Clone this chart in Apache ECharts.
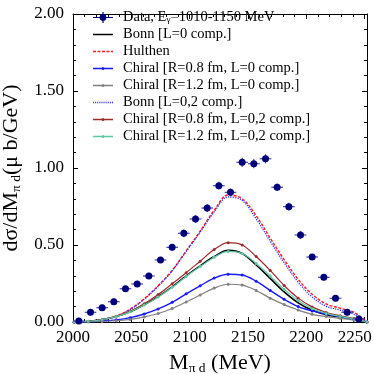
<!DOCTYPE html>
<html>
<head>
<meta charset="utf-8">
<script src="https://cdn.jsdelivr.net/npm/echarts@6/dist/echarts.min.js"></script>
<style>
  html, body { margin: 0; padding: 0; background: #fff; }
  #chart { width: 374px; height: 374px; }
</style>
</head>
<body>
<div id="chart"></div>
<script>
// measured points (bin centres, MeV) and cross section (µb/GeV)
var massBins = [2005, 2015, 2025, 2035, 2045, 2055, 2065, 2075, 2085, 2095, 2105, 2115, 2125,
  2135, 2145, 2155, 2165, 2175, 2185, 2195, 2205, 2215, 2225, 2235, 2245];
var dataValues = [0.006, 0.063, 0.093, 0.132, 0.216, 0.247, 0.299, 0.403, 0.485, 0.576, 0.669, 0.740, 0.885,
  0.842, 1.037, 1.028, 1.060, 0.875, 0.749, 0.565, 0.422, 0.290, 0.154, 0.063, 0.020];
var dataErrors = [0.015, 0.02, 0.02, 0.02, 0.02, 0.02, 0.02, 0.02, 0.02, 0.025, 0.025, 0.025, 0.025,
  0.025, 0.03, 0.03, 0.03, 0.025, 0.025, 0.025, 0.02, 0.02, 0.02, 0.02, 0.015];
var binHalfWidth = 5;

// model curves
var curveMass = [2001, 2013, 2025, 2037, 2049, 2061, 2073, 2085, 2097, 2109, 2121,
  2133, 2145, 2157, 2169, 2181, 2193, 2205, 2217, 2229, 2241, 2252];
var bonnL0 = [0, 0.005, 0.016, 0.036, 0.067, 0.112, 0.165, 0.228, 0.300, 0.365, 0.425,
  0.465, 0.445, 0.370, 0.283, 0.195, 0.124, 0.076, 0.048, 0.032, 0.018, 0];
var hulthen = [0, 0.003, 0.014, 0.038, 0.083, 0.150, 0.235, 0.335, 0.462, 0.590, 0.725,
  0.825, 0.800, 0.690, 0.545, 0.405, 0.277, 0.180, 0.117, 0.090, 0.062, 0];
var chiral08L0 = [0, 0.002, 0.007, 0.014, 0.028, 0.052, 0.085, 0.128, 0.183, 0.235, 0.285,
  0.310, 0.305, 0.265, 0.205, 0.147, 0.100, 0.072, 0.052, 0.035, 0.018, 0];
var chiral12L0 = [0, 0.001, 0.004, 0.008, 0.017, 0.033, 0.055, 0.088, 0.130, 0.175, 0.220,
  0.245, 0.240, 0.205, 0.155, 0.113, 0.078, 0.050, 0.035, 0.024, 0.012, 0];
var bonnL02 = [0, 0.003, 0.014, 0.037, 0.081, 0.147, 0.232, 0.332, 0.458, 0.582, 0.715,
  0.812, 0.790, 0.670, 0.525, 0.385, 0.258, 0.162, 0.102, 0.077, 0.050, 0];
var chiral08L02 = [0, 0.005, 0.017, 0.037, 0.070, 0.118, 0.178, 0.248, 0.320, 0.395, 0.470,
  0.515, 0.500, 0.425, 0.335, 0.237, 0.155, 0.098, 0.062, 0.040, 0.022, 0];
var chiral12L02 = [0, 0.005, 0.016, 0.035, 0.066, 0.110, 0.163, 0.225, 0.296, 0.360, 0.420,
  0.458, 0.445, 0.380, 0.298, 0.213, 0.140, 0.088, 0.056, 0.036, 0.020, 0];

var yTicks = ['0.00', '0.50', '1.00', '1.50', '2.00'];

var FONT = 'Liberation Serif';
var C_DATA = '#00007a', C_BAR = '#4646a8';

function pairs(xs, ys) {
  return xs.map(function (x, i) { return [x, ys[i]]; });
}

// legend glyphs (drawn with keepAspect, so thin paths stay thin); all sub-paths clockwise
var ICON_DATA = 'path://M0,5.4h20v1.2h-20z M9.4,0.5h1.2v11h-1.2z M6.6,6a3.4,3.4 0 1,1 6.8,0a3.4,3.4 0 1,1 -6.8,0z';
var ICON_SOLID = 'path://M0,0h20v1.5h-20z';
var ICON_MARK = 'path://M0,0.85h20v1.3h-20z M8.5,1.5a1.5,1.5 0 1,1 3,0a1.5,1.5 0 1,1 -3,0z';
function dashIcon(dash, gap) {
  var p = 'path://';
  for (var x = 0; x < 20; x += dash + gap) {
    var w = Math.min(dash, 20 - x);
    p += 'M' + x + ',0h' + w + 'v1.4h-' + w + 'z ';
  }
  return p;
}
function legendItem(name, icon, color) {
  return { name: name, icon: icon, itemStyle: { color: color, borderWidth: 0, opacity: 1 } };
}

var chart = echarts.init(document.getElementById('chart'));

var frameAxis = {
  axisLine: { show: true, onZero: false, lineStyle: { color: '#000', width: 1 } },
  axisTick: { show: true, inside: true, length: 5, lineStyle: { color: '#000' } },
  minorTick: { show: true, splitNumber: 5, length: 3, lineStyle: { color: '#000' } },
  splitLine: { show: false }
};

function curve(name, values, color, lineType, width, withMarks) {
  return {
    name: name,
    type: 'line',
    data: pairs(curveMass, values),
    smooth: 0.35,
    symbol: withMarks ? 'circle' : 'none',
    symbolSize: 3,
    showSymbol: withMarks,
    itemStyle: { color: color },
    lineStyle: { color: color, width: width, type: lineType },
    z: 3
  };
}

var option = {
  animation: false,
  backgroundColor: '#fff',
  textStyle: { fontFamily: FONT, color: '#000' },
  grid: { left: 73, right: 7, top: 14, bottom: 52, outerBoundsMode: 'none' },
  legend: {
    orient: 'vertical',
    left: 88,
    top: 5,
    itemWidth: 20,
    itemHeight: 12,
    itemGap: 2,
    textStyle: {
      fontFamily: FONT, fontSize: 14.5, color: '#000', lineHeight: 14,
      padding: [0, 0, 0, 5],
      rich: {
        sub: { fontFamily: FONT, fontSize: 9, verticalAlign: 'bottom', lineHeight: 9 }
      }
    },
    formatter: function (name) {
      if (name === 'Data') return 'Data, E{sub|γ}=1010-1150 MeV';
      return name;
    },
    data: [
      legendItem('Data', ICON_DATA, C_DATA),
      legendItem('Bonn [L=0 comp.]', ICON_SOLID, '#000000'),
      legendItem('Hulthen', dashIcon(3, 1.5), '#ff1a1a'),
      legendItem('Chiral [R=0.8 fm, L=0 comp.]', ICON_MARK, '#1a1aff'),
      legendItem('Chiral [R=1.2 fm, L=0 comp.]', ICON_MARK, '#808080'),
      legendItem('Bonn [L=0,2 comp.]', dashIcon(1, 1), '#2a2aff'),
      legendItem('Chiral [R=0.8 fm, L=0,2 comp.]', ICON_MARK, '#9e2a2a'),
      legendItem('Chiral [R=1.2 fm, L=0,2 comp.]', ICON_MARK, '#5ec7a5')
    ]
  },
  xAxis: [
    Object.assign({}, frameAxis, {
      type: 'value', position: 'bottom', min: 2000, max: 2252, interval: 50,
      axisLabel: {
        fontFamily: FONT, fontSize: 17, color: '#000', margin: 7,
        showMaxLabel: false,
        formatter: function (v) {
          if (v % 50 !== 0) return '';
          return v === 2250 ? '{last|' + v + '}' : String(v);
        },
        rich: { last: { fontFamily: FONT, fontSize: 17, color: '#000', padding: [0, 20, 0, 0] } }
      },
      name: 'M{sub|π d} (MeV)',
      nameLocation: 'middle',
      nameGap: 23,
      nameTextStyle: {
        fontFamily: FONT, fontSize: 22, color: '#000', lineHeight: 25,
        rich: { sub: { fontFamily: FONT, fontSize: 13.5, verticalAlign: 'bottom', lineHeight: 13 } }
      }
    }),
    Object.assign({}, frameAxis, {
      type: 'value', position: 'top', min: 2000, max: 2252, interval: 50,
      axisLabel: { show: false }
    })
  ],
  yAxis: [
    Object.assign({}, frameAxis, {
      type: 'value', position: 'left', min: 0, max: 2, interval: 0.5,
      axisLabel: {
        fontFamily: FONT, fontSize: 17, color: '#000', margin: 9,
        formatter: function (v) { return yTicks[Math.round(v / 0.5)]; }
      },
      name: 'dσ/dM{sub|π d}(μ b/GeV)',
      nameLocation: 'middle',
      nameGap: 40,
      nameTextStyle: {
        fontFamily: FONT, fontSize: 22, color: '#000', lineHeight: 25,
        rich: { sub: { fontFamily: FONT, fontSize: 13.5, verticalAlign: 'bottom', lineHeight: 13 } }
      }
    }),
    Object.assign({}, frameAxis, {
      type: 'value', position: 'right', min: 0, max: 2, interval: 0.5,
      axisLabel: { show: false }
    })
  ],
  series: [
    {
      name: 'errors',
      type: 'custom',
      data: massBins.map(function (m, i) { return [m, dataValues[i], dataErrors[i]]; }),
      renderItem: function (params, api) {
        var x = api.value(0), y = api.value(1), e = api.value(2);
        var l = api.coord([x - binHalfWidth, y]);
        var r = api.coord([x + binHalfWidth, y]);
        var t = api.coord([x, y + e]);
        var b = api.coord([x, y - e]);
        var st = { stroke: C_BAR, lineWidth: 1.2 };
        return {
          type: 'group',
          children: [
            { type: 'line', shape: { x1: l[0], y1: l[1], x2: r[0], y2: r[1] }, style: st },
            { type: 'line', shape: { x1: t[0], y1: t[1], x2: b[0], y2: b[1] }, style: st }
          ]
        };
      },
      z: 4
    },
    {
      name: 'Data',
      type: 'scatter',
      data: pairs(massBins, dataValues),
      symbol: 'circle',
      symbolSize: 7,
      itemStyle: { color: C_DATA, opacity: 1 },
      z: 5
    },
    curve('Bonn [L=0 comp.]', bonnL0, '#000000', 'solid', 1.6, false),
    curve('Hulthen', hulthen, '#ff1a1a', [3, 1.5], 1.4, false),
    curve('Chiral [R=0.8 fm, L=0 comp.]', chiral08L0, '#1a1aff', 'solid', 1.4, true),
    curve('Chiral [R=1.2 fm, L=0 comp.]', chiral12L0, '#808080', 'solid', 1.2, true),
    curve('Bonn [L=0,2 comp.]', bonnL02, '#2a2aff', [1.2, 1.2], 1.3, false),
    curve('Chiral [R=0.8 fm, L=0,2 comp.]', chiral08L02, '#9e2a2a', 'solid', 1.2, true),
    curve('Chiral [R=1.2 fm, L=0,2 comp.]', chiral12L02, '#5ec7a5', 'solid', 1.2, true)
  ]
};

chart.setOption(option);
</script>
</body>
</html>
